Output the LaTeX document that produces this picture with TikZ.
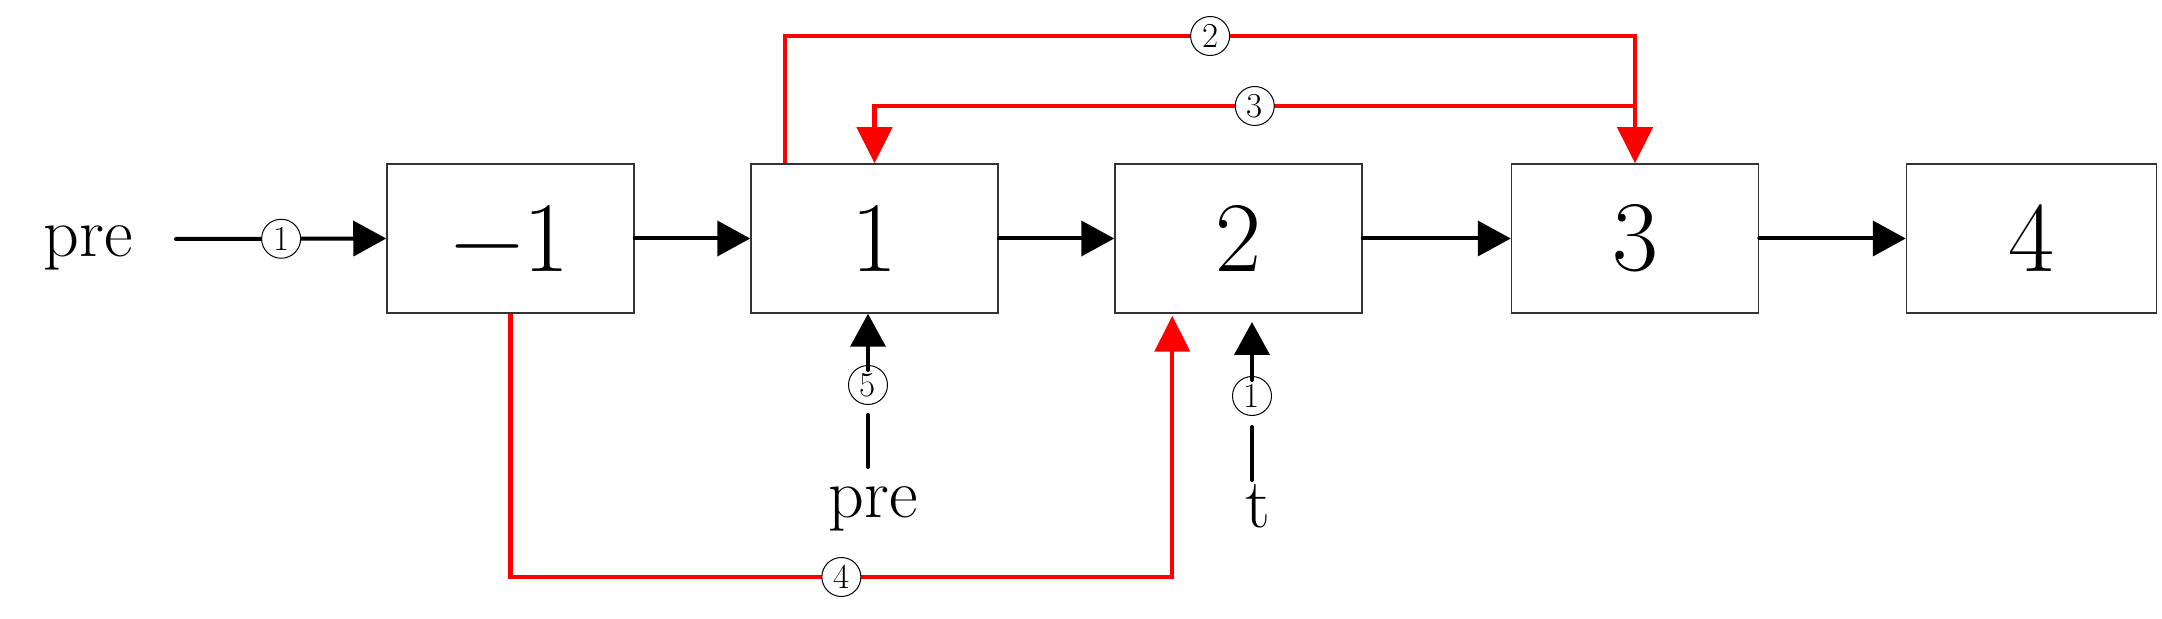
\documentclass[tikz,border=0pt]{standalone}
\usepackage{fontspec}
\usetikzlibrary{arrows.meta,calc}
\begin{document}
\begin{tikzpicture}[x=0.5pt,y=-0.5pt,
  box/.style={draw=black!80, line width=0.75pt, minimum width=123.5pt, minimum height=74.5pt, inner sep=0pt, font=\fontsize{50}{60}\selectfont},
  num/.style={circle, draw=black, fill=white, line width=0.5pt, minimum size=19.5pt, inner sep=0pt, font=\fontsize{17.5}{20}\selectfont},
  lab/.style={inner sep=0pt, anchor=base, font=\fontsize{35}{40}\selectfont},
  blkline/.style={line width=2pt, line cap=round},
  blkarr/.style={blkline, -{Triangle[length=16.5pt,width=17.5pt]}},
  redarr/.style={draw=red, line width=2.1pt, -{Triangle[length=18pt,width=17.5pt]}}]
\useasboundingbox (0,0) rectangle (2162,619);

% boxes
\node[box] (bm) at (510.5,238.5) {−1};
\node[box] (b1) at (874.5,238.5) {1};
\node[box] (b2) at (1238.5,238.5) {2};
\node[box] (b3) at (1635,238.5) {3};
\node[box, minimum width=125pt] (b4) at (2031.5,238.5) {4};

% texts
\node[lab] (pre1) at (88,257) {pre};
\node[lab] (pre2) at (873,517) {pre};
\node[lab] (t) at (1258,528) {t};

% black horizontal arrows
\coordinate (s0) at (176,239);
\draw[blkarr] (s0) -- (bm.west) node[num, midway] (c1a) {1};
\draw[blkarr] (bm) -- (b1);
\draw[blkarr] (b1) -- (b2);
\draw[blkarr] (b2) -- (b3);
\draw[blkarr] (b3) -- (b4);

% red 2
\coordinate (r2s) at ($(b1.north west)+(35,0)$);
\draw[redarr] (r2s) -- (r2s |- 0,36) -- (b3.north |- 0,36) node[num, midway] (c2) {2} -- (b3.north);

% red 3
\coordinate (j3) at (b3.north |- 0,106);
\draw[redarr] (j3) -- (b1.north |- 0,106) node[num, midway] (c3) {3} -- (b1.north);

% red 4
\coordinate (r4e) at ($(b2.south west)+(58,2)$);
\draw[redarr] (bm.south) -- (bm.south |- 0,577) -- (r4e |- 0,577) node[num, midway] (c4) {4} -- (r4e);

% black 5 (from bottom pre)
\node[num] (c5) at (868,385) {5};
\coordinate (p5) at (868,467);
\draw[blkline] (p5) -- ($(c5.south)+(0,10)$);
\draw[blkarr] ($(c5.north)+(0,5)$) -- (c5 |- b1.south);

% black 1 (from t)
\node[num] (c1b) at (1252,396) {1};
\coordinate (pt) at (1252,480);
\coordinate (tt) at (1252,322);
\draw[blkline] (pt) -- ($(c1b.south)+(0,11)$);
\draw[blkarr] ($(c1b.north)+(0,4)$) -- (tt);
\end{tikzpicture}
\end{document}
